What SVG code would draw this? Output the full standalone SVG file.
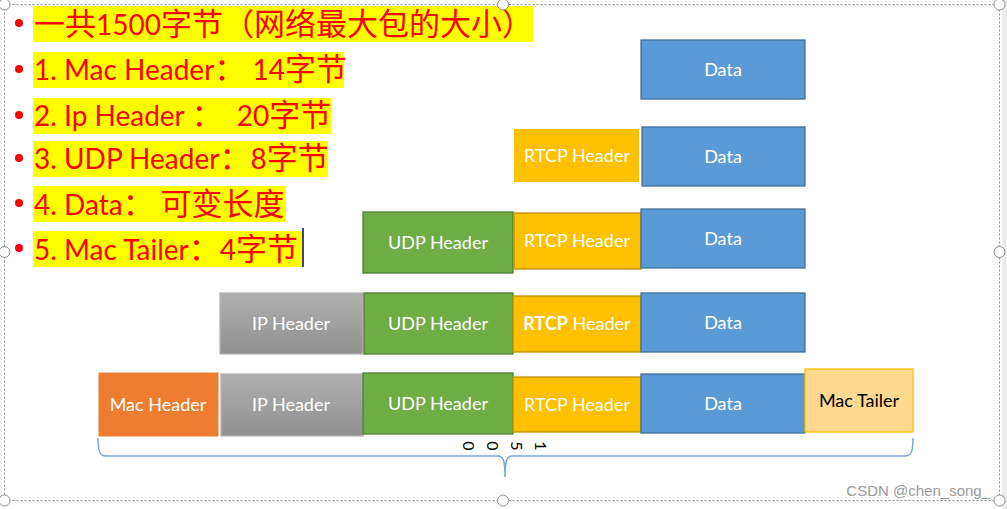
<svg xmlns="http://www.w3.org/2000/svg" width="1007" height="509" viewBox="0 0 1007 509">
<style>
.bl{font-family:Lato,"Noto Sans CJK SC",sans-serif;font-size:28px;fill:#FF0000;white-space:pre}
.c{font-size:31px;font-family:"Noto Sans CJK SC",sans-serif}
.hl{fill:#FFFF00}
.dot{fill:#FF0000}
.bt{font-family:Lato,"Noto Sans",sans-serif;font-size:18px;fill:#FFFFFF;text-anchor:middle}
.data{fill:#5B9BD5;stroke:#41719C;stroke-width:1.3}
.rtcp{fill:#FFC000;stroke:#BF9000;stroke-width:1.3}
.udp{fill:#70AD47;stroke:#507E32;stroke-width:1.3}
.ip{fill:url(#gray);stroke:#B5B5B5;stroke-width:1.3}
.dig{font-family:Lato,"Liberation Sans",sans-serif;font-size:16px;fill:#000000;text-anchor:middle}
.hd{fill:#FFFFFF;stroke:#8C8C8C;stroke-width:1}
</style>
<defs>
<linearGradient id="gray" x1="0" y1="0" x2="0" y2="1">
<stop offset="0" stop-color="#B0B0B0"/>
<stop offset="1" stop-color="#909090"/>
</linearGradient>
</defs>
<rect x="0" y="0" width="1007" height="509" fill="#FFFFFF"/>
<rect x="1002" y="0" width="5" height="509" fill="#ECECEC"/>

<g id="bullets">
<rect class="hl" x="33" y="6" width="500" height="36"/>
<rect class="hl" x="33" y="52" width="311" height="36"/>
<rect class="hl" x="33" y="98" width="298" height="36"/>
<rect class="hl" x="33" y="141" width="295" height="36"/>
<rect class="hl" x="33" y="186" width="253" height="36"/>
<rect class="hl" x="33" y="231" width="270" height="36"/>
<circle class="dot" cx="19" cy="23" r="4"/>
<circle class="dot" cx="19" cy="69" r="4"/>
<circle class="dot" cx="19" cy="115" r="4"/>
<circle class="dot" cx="19" cy="158" r="4"/>
<circle class="dot" cx="19" cy="203" r="4"/>
<circle class="dot" cx="19" cy="248" r="4"/>
<text class="bl" x="34" y="35"><tspan class="c">一共</tspan>1500<tspan class="c">字节（网络最大包的大小）</tspan></text>
<text class="bl" x="34" y="80">1. Mac Header<tspan class="c">：</tspan> 14<tspan class="c">字节</tspan></text>
<text class="bl" x="34" y="126">2. Ip Header <tspan class="c">：</tspan>  20<tspan class="c">字节</tspan></text>
<text class="bl" x="34" y="169">3. UDP Header<tspan class="c">：</tspan>8<tspan class="c">字节</tspan></text>
<text class="bl" x="34" y="215">4. Data<tspan class="c">： 可变长度</tspan></text>
<text class="bl" x="34" y="260">5. Mac Tailer<tspan class="c">：</tspan>4<tspan class="c">字节</tspan></text>
<line x1="303" y1="228" x2="303" y2="267" stroke="#00008B" stroke-width="1.5"/>
</g>

<g id="row1">
<g id="r1-data"><rect class="data" x="641" y="40" width="164" height="59"/><text class="bt" x="723" y="76">Data</text></g>
</g>

<g id="row2">
<g id="r2-rtcp"><rect fill="#FFC000" x="514" y="129" width="125" height="53"/><text class="bt" x="577" y="162">RTCP Header</text></g>
<g id="r2-data"><rect class="data" x="642" y="127" width="163" height="59"/><text class="bt" x="723" y="163">Data</text></g>
</g>

<g id="row3">
<g id="r3-udp"><rect class="udp" x="363" y="212" width="150" height="61"/><text class="bt" x="438" y="249">UDP Header</text></g>
<g id="r3-rtcp"><rect class="rtcp" x="514" y="213" width="127" height="56"/><text class="bt" x="577" y="247">RTCP Header</text></g>
<g id="r3-data"><rect class="data" x="641" y="209" width="164" height="59"/><text class="bt" x="723" y="245">Data</text></g>
</g>

<g id="row4">
<g id="r4-ip"><rect class="ip" x="220" y="293" width="143" height="61"/><text class="bt" x="291" y="330">IP Header</text></g>
<g id="r4-udp"><rect class="udp" x="364" y="293" width="149" height="61"/><text class="bt" x="438" y="330">UDP Header</text></g>
<g id="r4-rtcp"><rect class="rtcp" x="513" y="296" width="128" height="56"/><text class="bt" x="577" y="330"><tspan font-weight="bold">RTCP</tspan> Header</text></g>
<g id="r4-data"><rect class="data" x="641" y="293" width="164" height="59"/><text class="bt" x="723" y="329">Data</text></g>
</g>

<g id="row5">
<g id="r5-mac"><rect fill="#ED7D31" stroke="#FFFFFF" stroke-width="1" x="98" y="372" width="121" height="65"/><text class="bt" x="158" y="411">Mac Header</text></g>
<g id="r5-ip"><rect class="ip" x="221" y="374" width="142" height="62"/><text class="bt" x="291" y="411">IP Header</text></g>
<g id="r5-udp"><rect class="udp" x="363" y="373" width="150" height="61"/><text class="bt" x="438" y="410">UDP Header</text></g>
<g id="r5-rtcp"><rect class="rtcp" x="513" y="377" width="128" height="55"/><text class="bt" x="577" y="411">RTCP Header</text></g>
<g id="r5-data"><rect class="data" x="641" y="374" width="164" height="59"/><text class="bt" x="723" y="410">Data</text></g>
<g id="r5-tail"><rect fill="#FFD98F" stroke="#FFC000" stroke-width="1.3" x="805" y="369" width="108" height="63"/><text class="bt" x="859" y="407" style="fill:#000000">Mac Tailer</text></g>
</g>

<g id="connectors">
<path d="M98,438 C98,452 100,456 106,456 L498,456 C503,456 505,460 505,477 M913,438 C913,452 911,456 905,456 L512,456 C507,456 505,460 505,477" fill="none" stroke="#7EA6DC" stroke-width="1.5"/>
</g>

<g id="label-1500">
<text class="dig" transform="translate(535,446) rotate(90)">1</text>
<text class="dig" transform="translate(511,446) rotate(90)">5</text>
<text class="dig" transform="translate(487,446) rotate(90)">0</text>
<text class="dig" transform="translate(463,446) rotate(90)">0</text>
</g>

<g id="selection">
<rect x="4.5" y="4.5" width="995" height="496" fill="none" stroke="#8C8C8C" stroke-width="1" stroke-dasharray="2,2"/>
<circle class="hd" cx="4.5" cy="4.5" r="5.5"/>
<circle class="hd" cx="503" cy="4.5" r="5.5"/>
<circle class="hd" cx="999.5" cy="4.5" r="5.5"/>
<circle class="hd" cx="4.5" cy="252" r="5.5"/>
<circle class="hd" cx="999.5" cy="252" r="5.5"/>
<circle class="hd" cx="4.5" cy="500.5" r="5.5"/>
<circle class="hd" cx="503" cy="500.5" r="5.5"/>
<circle class="hd" cx="999.5" cy="500.5" r="5.5"/>
</g>

<text x="990" y="496" font-family="Liberation Sans,Arial,sans-serif" font-size="15" fill="#9A9A9A" text-anchor="end">CSDN @chen_song_</text>
</svg>
